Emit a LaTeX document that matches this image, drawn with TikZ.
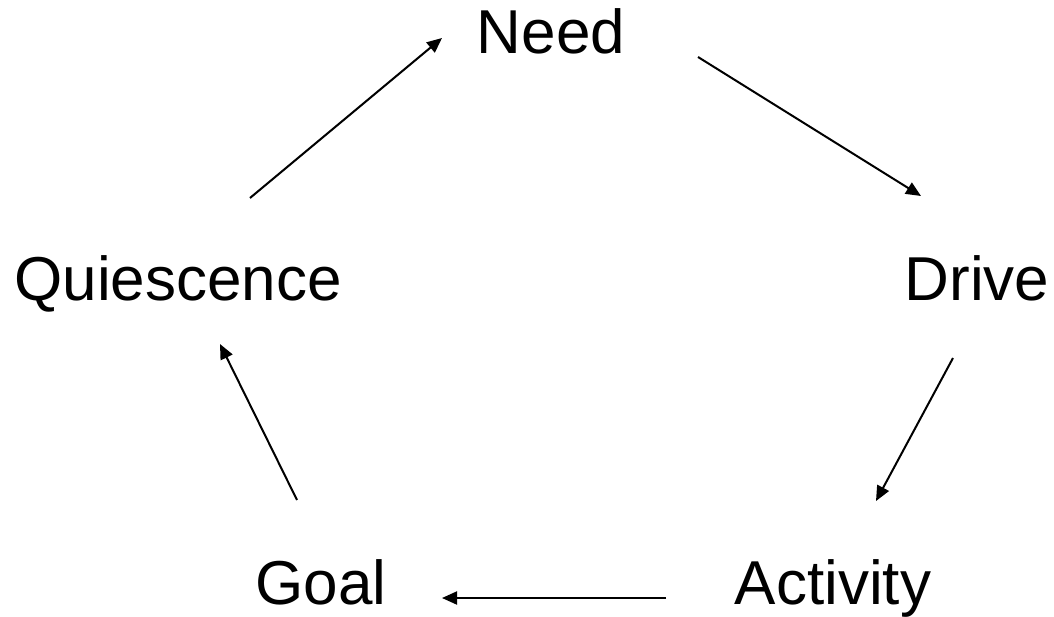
\documentclass[tikz,border=0pt]{standalone}
\usepackage{fontspec}
\setmainfont{Liberation Sans}
\usetikzlibrary{arrows.meta}
\begin{document}
\begin{tikzpicture}[x=1pt,y=-1pt,
  lbl/.style={anchor=base,inner sep=0pt,font=\fontsize{62}{62}\selectfont},
  conn/.style={line width=2pt,-{Triangle[length=15pt,width=13pt]}}]
\useasboundingbox (0,0) rectangle (1054,617);
\node[lbl] (need) at (551,54) {Need};
\node[lbl] (drive) at (977,301) {Drive};
\node[lbl] (act) at (833,604) {Activity};
\node[lbl] (goal) at (321,604) {Goal};
\node[lbl] (quies) at (178,301) {Quiescence};
\coordinate (nd1) at (698,57);
\coordinate (nd2) at (921,196);
\coordinate (da1) at (953,358);
\coordinate (da2) at (876,501);
\coordinate (ag1) at (666,598);
\coordinate (ag2) at (442,598);
\coordinate (gq1) at (297,500);
\coordinate (gq2) at (220,344);
\coordinate (qn1) at (250,198);
\coordinate (qn2) at (442,38);
\draw[conn] (nd1) -- (nd2);
\draw[conn] (da1) -- (da2);
\draw[conn] (ag1) -- (ag2);
\draw[conn] (gq1) -- (gq2);
\draw[conn] (qn1) -- (qn2);
\end{tikzpicture}
\end{document}
